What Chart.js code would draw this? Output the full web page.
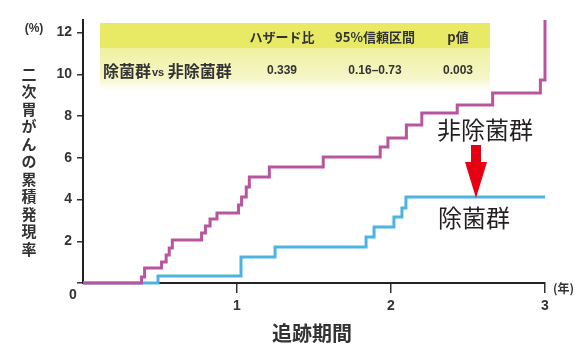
<!DOCTYPE html>
<html>
<head>
<meta charset="utf-8">
<script src="https://cdn.jsdelivr.net/npm/chart.js@4/dist/chart.umd.min.js"></script>
<style>
  html, body { margin: 0; padding: 0; background: #fff; }
  #wrap { width: 576px; height: 347px; position: relative; }
</style>
</head>
<body>
<div id="wrap"><canvas id="c" width="576" height="347"></canvas></div>
<script>
// Cumulative incidence of secondary gastric cancer (%), by follow-up year
const nonEradYears = [0, 0.38, 0.40, 0.51, 0.54, 0.56, 0.58, 0.77, 0.795, 0.825, 0.87, 1.01, 1.03, 1.06, 1.08, 1.21, 1.56, 1.93, 1.98, 2.10, 2.20, 2.43, 2.66, 2.97, 3.0];
const nonEradPct   = [0, 0.29, 0.72, 1.01, 1.34, 1.68, 2.06, 2.40, 2.73, 3.07, 3.35, 3.74, 4.12, 4.60, 5.08, 5.56, 6.04, 6.52, 6.95, 7.57, 8.15, 8.53, 9.10, 9.73, 12.6];
const eradYears    = [0, 0.487, 1.026, 1.247, 1.838, 1.890, 2.019, 2.071, 2.097, 3.0];
const eradPct      = [0, 0.34, 1.25, 1.73, 2.20, 2.68, 3.16, 3.59, 4.12, 4.12];

const yTickValues = [0, 2, 4, 6, 8, 10, 12];
const xTickValues = [1, 2, 3];

const tableHeader = ['ハザード比', '95%信頼区間', 'p値'];
const tableRowLabel = ['除菌群', 'vs', ' 非除菌群'];
const tableRowValues = ['0.339', '0.16–0.73', '0.003'];

const yTitle = '二次胃がんの累積発現率';
const xTitle = '追跡期間';
const nonEradLabel = '非除菌群';
const eradLabel = '除菌群';

const toPoints = (xs, ys) => xs.map((x, i) => ({ x, y: ys[i] }));

const JP = '"Noto Sans CJK JP", "Noto Sans", sans-serif';
const NUM = '"Liberation Sans", Arial, sans-serif';
const INK = '#333333';

const decorations = {
  id: 'decorations',
  beforeDraw(chart) {
    const ctx = chart.ctx;
    ctx.save();
    ctx.fillStyle = '#ffffff';
    ctx.fillRect(0, 0, chart.width, chart.height);

    // result table background
    const bx = 100, bw = 390;
    const g = ctx.createLinearGradient(0, 48, 0, 92);
    g.addColorStop(0, '#eff19f');
    g.addColorStop(0.7, '#f5f6c9');
    g.addColorStop(1, 'rgba(250,250,225,0)');
    ctx.fillStyle = g;
    ctx.fillRect(bx, 48, bw, 44);
    ctx.fillStyle = '#e8ea66';
    ctx.fillRect(bx, 23, bw, 25);

    ctx.fillStyle = INK;
    ctx.textBaseline = 'middle';
    ctx.textAlign = 'center';
    ctx.font = 'bold 13px ' + JP;
    const colX = [282, 375, 458];
    tableHeader.forEach((t, i) => ctx.fillText(t, colX[i], 37));
    ctx.font = 'bold 12px ' + NUM;
    tableRowValues.forEach((t, i) => ctx.fillText(t, colX[i], 71));

    ctx.textAlign = 'left';
    let x = 103;
    ctx.font = 'bold 16px ' + JP;
    ctx.fillText(tableRowLabel[0], x, 71);
    x += ctx.measureText(tableRowLabel[0]).width;
    ctx.font = 'bold 11px ' + NUM;
    ctx.fillText(tableRowLabel[1], x + 1, 73);
    x += ctx.measureText(tableRowLabel[1]).width + 1;
    ctx.font = 'bold 16px ' + JP;
    ctx.fillText(tableRowLabel[2], x, 71);
    ctx.restore();
  },
  afterDraw(chart) {
    const ctx = chart.ctx;
    ctx.save();
    ctx.fillStyle = INK;
    ctx.textBaseline = 'middle';

    // vertical stacked y title
    ctx.textAlign = 'center';
    ctx.font = 'bold 15px ' + JP;
    [...yTitle].forEach((ch, i) => ctx.fillText(ch, 29, 74 + i * 17.5));

    ctx.font = 'bold 12px ' + NUM;
    ctx.fillText('(%)', 34, 29);

    ctx.font = 'bold 14px ' + NUM;
    ctx.fillText('0', 73, 295);

    ctx.font = 'bold 20px ' + JP;
    ctx.fillText(xTitle, 312, 333);

    ctx.textAlign = 'left';
    ctx.font = 'bold 12px ' + JP;
    ctx.fillText('(年)', 553, 288);

    // group labels and arrow
    ctx.fillStyle = '#231f20';
    ctx.textAlign = 'center';
    ctx.font = '24px ' + JP;
    ctx.fillText(nonEradLabel, 485, 130);
    ctx.fillText(eradLabel, 474, 218);

    ctx.fillStyle = '#e60012';
    ctx.fillRect(471, 145, 10, 19);
    ctx.beginPath();
    ctx.moveTo(465, 162);
    ctx.lineTo(487, 162);
    ctx.lineTo(476, 198);
    ctx.closePath();
    ctx.fill();
    ctx.restore();
  }
};

new Chart(document.getElementById('c'), {
  type: 'line',
  data: {
    datasets: [
      {
        label: nonEradLabel,
        data: toPoints(nonEradYears, nonEradPct),
        borderColor: '#b9559f',
        borderWidth: 3,
        pointRadius: 0,
        stepped: true,
        fill: false,
        clip: 6
      },
      {
        label: eradLabel,
        data: toPoints(eradYears, eradPct),
        borderColor: '#4cb3e2',
        borderWidth: 3,
        pointRadius: 0,
        stepped: true,
        fill: false,
        clip: 6
      }
    ]
  },
  options: {
    responsive: false,
    animation: false,
    devicePixelRatio: 1,
    layout: { padding: { top: 20, right: 31, left: 0, bottom: 0 } },
    plugins: { legend: { display: false }, tooltip: { enabled: false } },
    scales: {
      x: {
        type: 'linear',
        min: 0,
        max: 3,
        z: 1,
        afterFit: s => { s.height = 64; },
        afterBuildTicks: s => { s.ticks = xTickValues.map(v => ({ value: v })); },
        border: { display: true, color: '#222', width: 2 },
        grid: { drawOnChartArea: false, drawTicks: true, tickLength: 10, color: '#333', lineWidth: 1.5 },
        ticks: { color: INK, font: { family: NUM, size: 14, weight: 'bold' }, padding: 5, maxRotation: 0 }
      },
      y: {
        type: 'linear',
        min: 0,
        max: 12.6,
        z: 1,
        afterFit: s => { s.width = 83; },
        afterBuildTicks: s => { s.ticks = yTickValues.map(v => ({ value: v })); },
        border: { display: true, color: '#222', width: 2 },
        grid: { drawOnChartArea: false, drawTicks: true, tickLength: 6, color: '#333', lineWidth: 1.5 },
        ticks: {
          color: INK,
          font: { family: NUM, size: 14, weight: 'bold' },
          padding: 5,
          callback: v => (v === 0 ? '' : String(v))
        }
      }
    }
  },
  plugins: [decorations]
});
</script>
</body>
</html>
